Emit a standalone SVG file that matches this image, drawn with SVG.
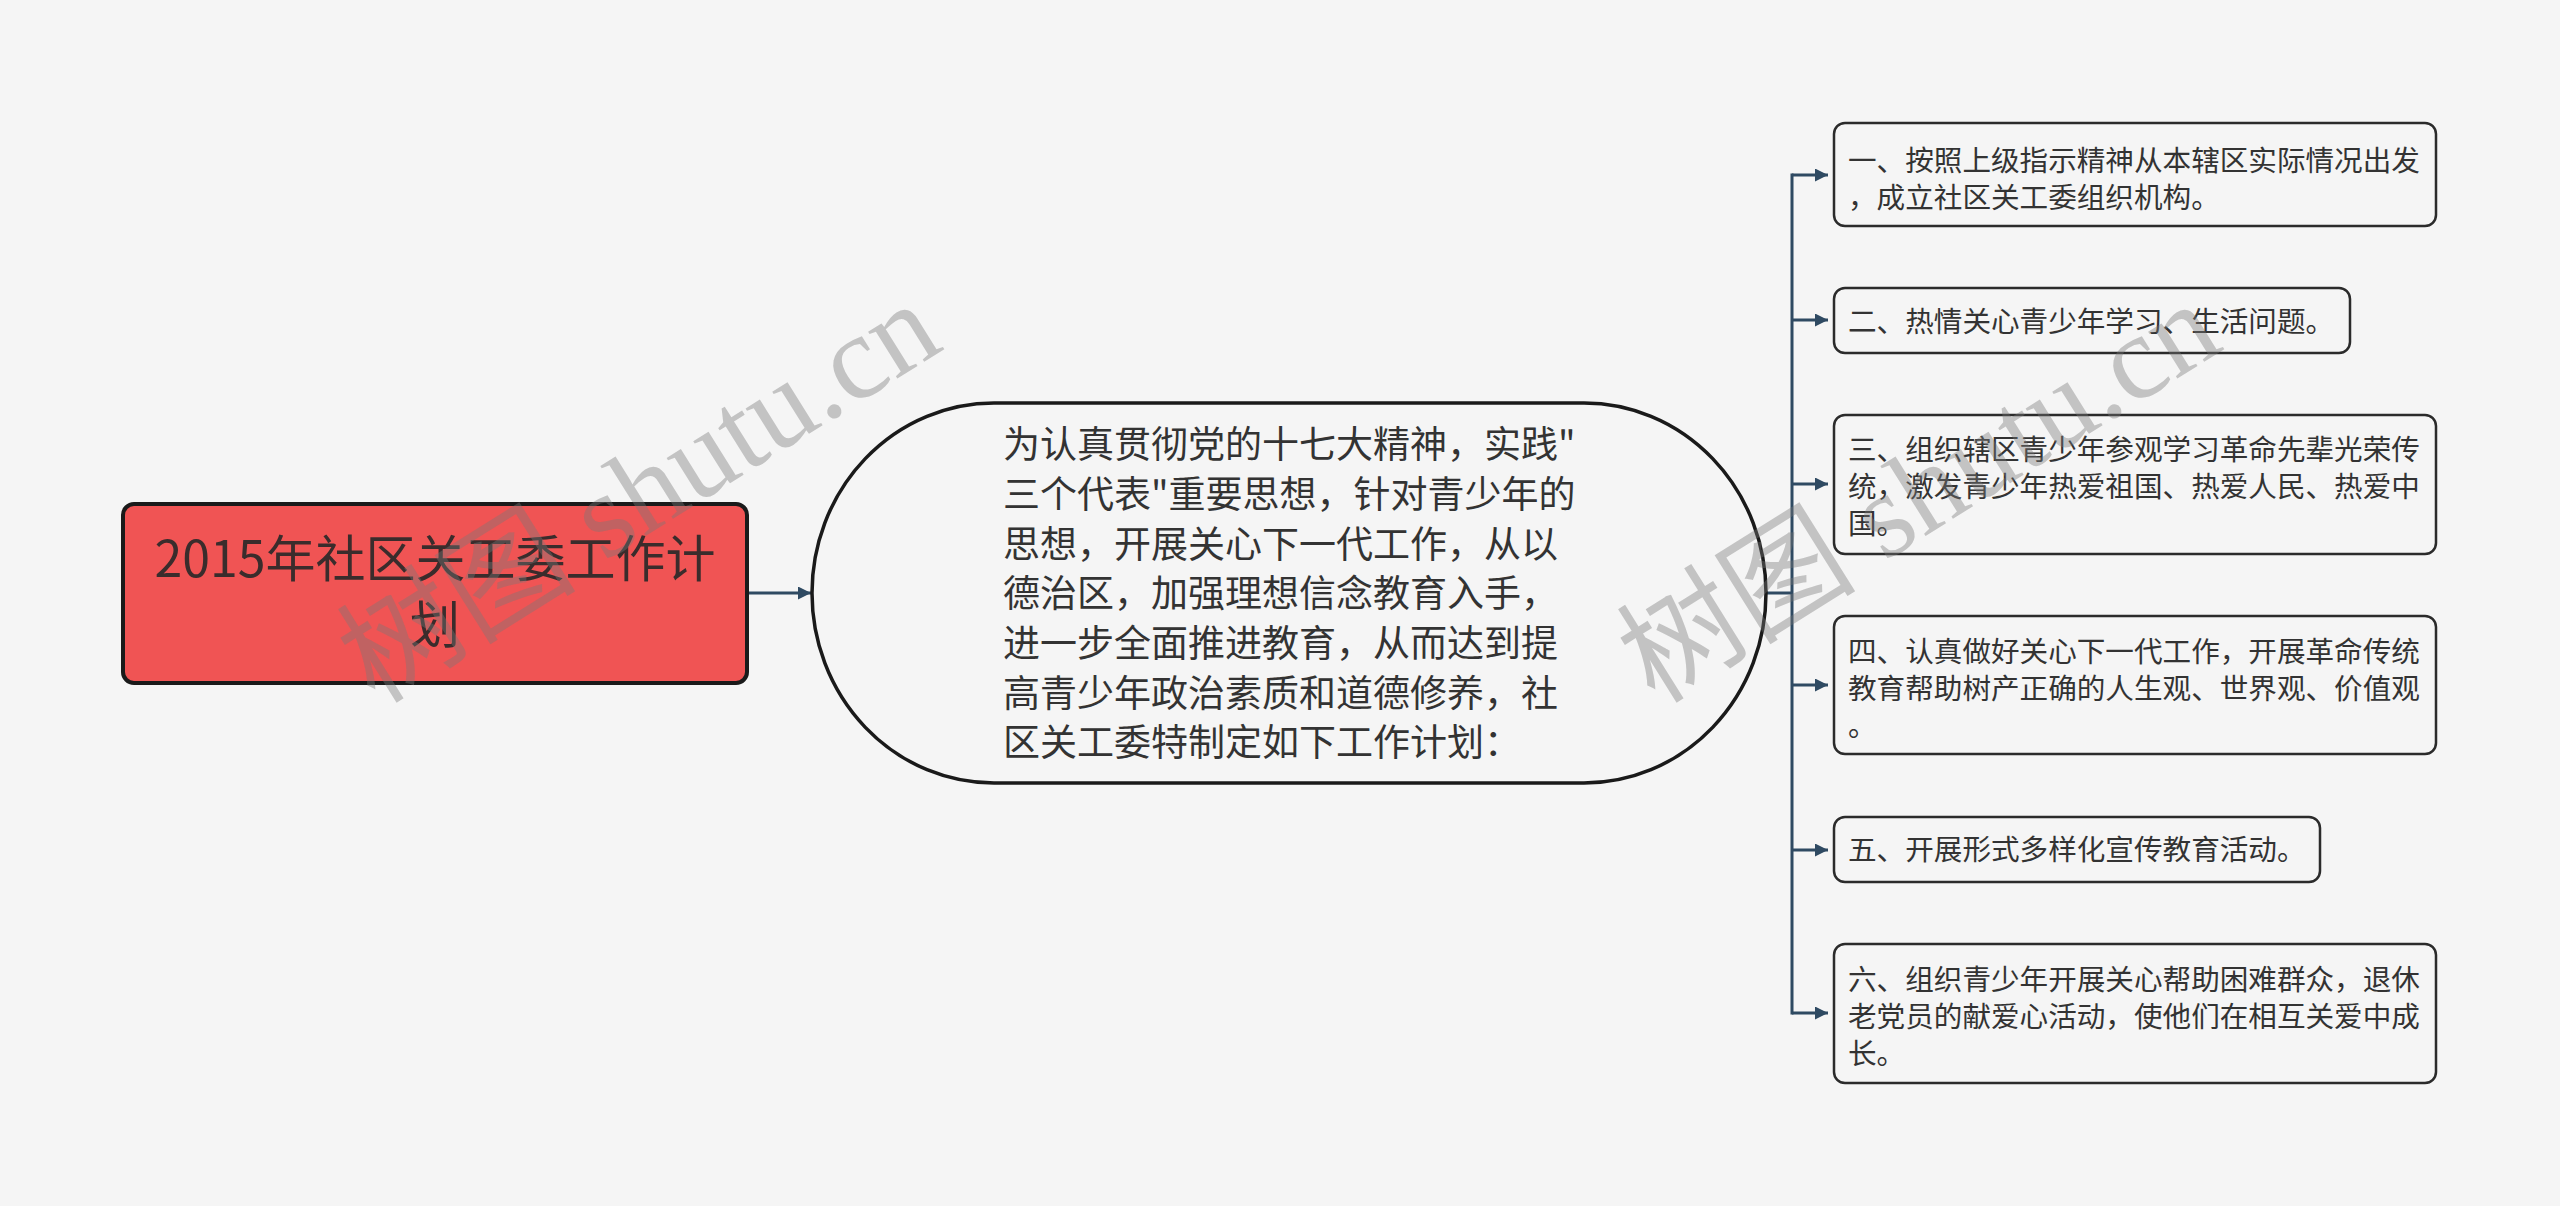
<svg xmlns="http://www.w3.org/2000/svg" width="2560" height="1206" viewBox="0 0 2560 1206">
<style>
.t{font-family:"Noto Sans CJK SC","Microsoft YaHei",sans-serif;fill:#333333;}
.root{font-size:50px;text-anchor:middle;fill:#3a2c2c;}
.mid{font-size:37px;}
.leaf{font-size:28.6px;}
.box{fill:#f5f5f5;stroke:#2b2b2b;stroke-width:2.5;}
.conn{fill:none;stroke:#2f4a62;stroke-width:3;}
.wm{font-family:"Liberation Serif","Noto Sans CJK SC",serif;font-size:120px;fill:#777777;fill-opacity:0.4;}
</style>
<defs>
<marker id="ah" viewBox="0 0 12 12" refX="12" refY="6" markerWidth="13" markerHeight="13" markerUnits="userSpaceOnUse" orient="auto">
<path d="M0,0 L12,6 L0,12 Z" fill="#2f4a62"/>
</marker>
</defs>
<rect x="0" y="0" width="2560" height="1206" fill="#f5f5f5"/>
<g id="connectors">
<line class="conn" x1="748" y1="593" x2="811" y2="593" marker-end="url(#ah)"/>
<line class="conn" x1="1767" y1="593" x2="1792" y2="593"/>
<line class="conn" x1="1792" y1="173.5" x2="1792" y2="1014.5"/>
<line class="conn" x1="1792" y1="175" x2="1828" y2="175" marker-end="url(#ah)"/>
<line class="conn" x1="1792" y1="320" x2="1828" y2="320" marker-end="url(#ah)"/>
<line class="conn" x1="1792" y1="484" x2="1828" y2="484" marker-end="url(#ah)"/>
<line class="conn" x1="1792" y1="685" x2="1828" y2="685" marker-end="url(#ah)"/>
<line class="conn" x1="1792" y1="850" x2="1828" y2="850" marker-end="url(#ah)"/>
<line class="conn" x1="1792" y1="1013" x2="1828" y2="1013" marker-end="url(#ah)"/>
</g>
<g id="root">
<rect x="123" y="504" width="624" height="179" rx="11" fill="#f05454" stroke="#1a1a1a" stroke-width="4"/>
<text class="t root" x="435" y="577">2015年社区关工委工作计</text>
<text class="t root" x="435" y="643">划</text>
</g>
<g id="intro">
<rect x="812" y="403" width="954" height="380" rx="182" ry="190" fill="#f5f5f5" stroke="#1a1a1a" stroke-width="3.5"/>
<text class="t mid" x="1003" y="458">为认真贯彻党的十七大精神，实践"</text>
<text class="t mid" x="1003" y="508">三个代表"重要思想，针对青少年的</text>
<text class="t mid" x="1003" y="558">思想，开展关心下一代工作，从以</text>
<text class="t mid" x="1003" y="607">德治区，加强理想信念教育入手，</text>
<text class="t mid" x="1003" y="657">进一步全面推进教育，从而达到提</text>
<text class="t mid" x="1003" y="707">高青少年政治素质和道德修养，社</text>
<text class="t mid" x="1003" y="756">区关工委特制定如下工作计划：</text>
</g>
<g id="item1">
<rect class="box" x="1834" y="123" width="602" height="103" rx="11"/>
<text class="t leaf" x="1848" y="171">一、按照上级指示精神从本辖区实际情况出发</text>
<text class="t leaf" x="1848" y="208">，成立社区关工委组织机构。</text>
</g>
<g id="item2">
<rect class="box" x="1834" y="288" width="516" height="65" rx="11"/>
<text class="t leaf" x="1848" y="332">二、热情关心青少年学习、生活问题。</text>
</g>
<g id="item3">
<rect class="box" x="1834" y="415" width="602" height="139" rx="11"/>
<text class="t leaf" x="1848" y="460">三、组织辖区青少年参观学习革命先辈光荣传</text>
<text class="t leaf" x="1848" y="497">统，激发青少年热爱祖国、热爱人民、热爱中</text>
<text class="t leaf" x="1848" y="534">国。</text>
</g>
<g id="item4">
<rect class="box" x="1834" y="616" width="602" height="138" rx="11"/>
<text class="t leaf" x="1848" y="662">四、认真做好关心下一代工作，开展革命传统</text>
<text class="t leaf" x="1848" y="699">教育帮助树产正确的人生观、世界观、价值观</text>
<text class="t leaf" x="1848" y="736">。</text>
</g>
<g id="item5">
<rect class="box" x="1834" y="817" width="486" height="65" rx="11"/>
<text class="t leaf" x="1848" y="860">五、开展形式多样化宣传教育活动。</text>
</g>
<g id="item6">
<rect class="box" x="1834" y="944" width="602" height="139" rx="11"/>
<text class="t leaf" x="1848" y="990">六、组织青少年开展关心帮助困难群众，退休</text>
<text class="t leaf" x="1848" y="1027">老党员的献爱心活动，使他们在相互关爱中成</text>
<text class="t leaf" x="1848" y="1064">长。</text>
</g>
<g id="watermarks">
<text class="wm" transform="translate(375,705) rotate(-32)">树图 shutu.cn</text>
<text class="wm" transform="translate(1655,705) rotate(-32)">树图 shutu.cn</text>
</g>
</svg>
